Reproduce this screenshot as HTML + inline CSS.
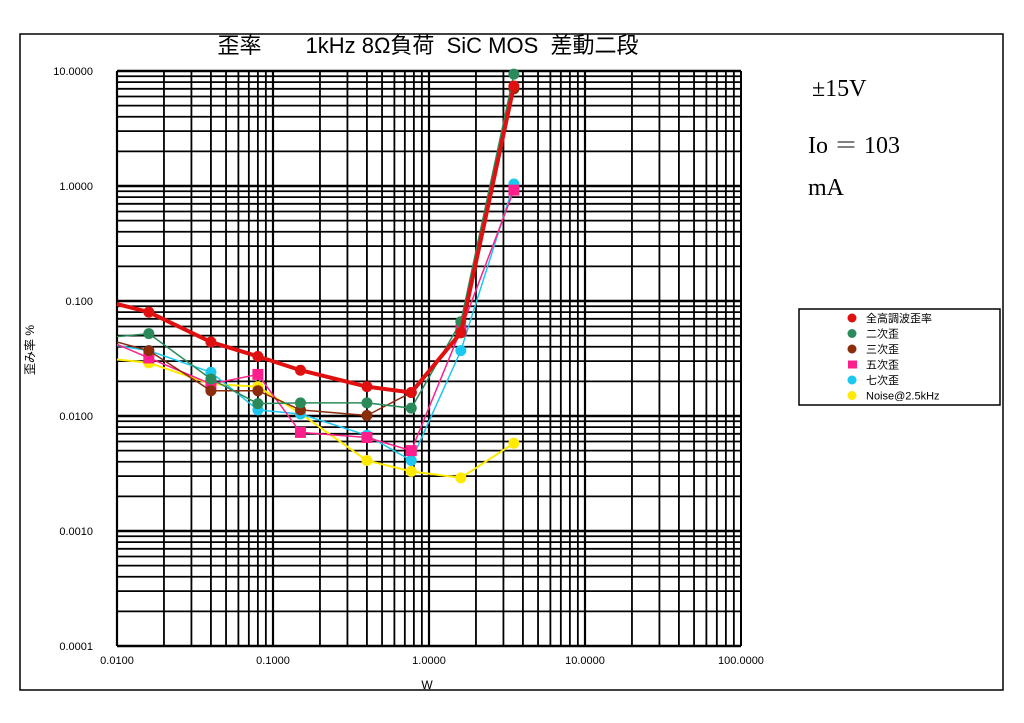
<!DOCTYPE html><html><head><meta charset="utf-8"><style>
body{margin:0;background:#fff;font-family:"Liberation Sans","Noto Sans CJK JP",sans-serif}
svg text{font-family:"Liberation Sans","Noto Sans CJK JP",sans-serif}
</style></head><body>
<svg id="c" width="1024" height="718">
<rect x="20" y="34" width="983" height="656" fill="none" stroke="#000" stroke-width="1.5"/>
<text x="428" y="53" font-size="22" text-anchor="middle" xml:space="preserve">歪率　　1kHz 8Ω負荷  SiC MOS  差動二段</text>
<text x="812" y="96" font-size="24" style="font-family:'Liberation Serif',serif">±15V</text>
<text x="808" y="153" font-size="24" style="font-family:'Liberation Serif','Noto Serif CJK SC',serif">Io ＝ 103</text>
<text x="808" y="195" font-size="24" style="font-family:'Liberation Serif',serif">mA</text>
<text transform="translate(34,350) rotate(-90)" font-size="12" text-anchor="middle">歪み率 %</text>
<text x="427" y="689" font-size="12" text-anchor="middle">W</text>
<g id="grid"></g><g id="ticks"></g><g id="series"></g>
<g>
<rect x="799" y="309" width="201" height="96" fill="#fff" stroke="#000" stroke-width="1.5"/>
<g id="leg"></g></g>
</svg>
<script>
const xVals=[0.01,0.016,0.04,0.08,0.15,0.4,0.77,1.6,3.5];
const thd=[0.094,0.08,0.044,0.033,0.025,0.018,0.016,0.053,7.4];
const h2=[0.049,0.052,0.021,0.0128,0.013,0.013,0.0117,0.066,9.4];
const h3=[0.044,0.037,0.0166,0.0166,0.0113,0.0101,0.016,0.053,7.0];
const h5=[0.042,0.032,0.019,0.023,0.0072,0.0065,0.005,0.056,0.92];
const h7=[0.041,0.037,0.024,0.0113,0.0104,0.0068,0.0041,0.037,1.04];
const noise=[0.031,0.029,0.019,0.018,0.0105,0.0041,0.0033,0.0029,0.0058];
const seriesNames=["全高調波歪率","二次歪","三次歪","五次歪","七次歪","Noise@2.5kHz"];
const yTicks=["0.0001","0.0010","0.0100","0.100","1.0000","10.0000"];
const xTicks=["0.0100","0.1000","1.0000","10.0000","100.0000"];
const NS="http://www.w3.org/2000/svg";
const X=v=>117+(Math.log10(v)+2)*156, Y=v=>646-(Math.log10(v)+4)*115;
function mk(t,a,p){const e=document.createElementNS(NS,t);for(const k in a)e.setAttribute(k,a[k]);p.appendChild(e);return e;}
const g=document.getElementById('grid');
for(let d=-4;d<1;d++)for(let m=1;m<10;m++){const v=m*Math.pow(10,d);const y=Y(v);
const l=mk('line',{x1:117,x2:741,y1:y,y2:y,stroke:'#000','stroke-width':m==1?2.5:1.8},g);
}
mk('line',{x1:117,x2:741,y1:Y(10),y2:Y(10),stroke:'#000','stroke-width':2.5},g);
for(let d=-2;d<2;d++)for(let m=1;m<10;m++){const v=m*Math.pow(10,d);const x=X(v);
const l=mk('line',{x1:x,x2:x,y1:71,y2:646,stroke:'#000','stroke-width':m==1?2.2:1.8},g);
}
mk('line',{x1:741,x2:741,y1:71,y2:646,stroke:'#000','stroke-width':2},g);
const tk=document.getElementById('ticks');
yTicks.forEach((s,i)=>{const t=mk('text',{x:93,y:Y(parseFloat(s))+4,'font-size':11,'text-anchor':'end'},tk);t.textContent=s;
});
xTicks.forEach(s=>{const t=mk('text',{x:X(parseFloat(s)),y:664,'font-size':11,'text-anchor':'middle'},tk);t.textContent=s;
});
const data=[noise,h7,h5,h3,h2,thd];
const cols=["#ffea00","#1cc8f0","#ff1f8c","#8b2c0a","#2a8a5a","#e01010"];
const widths=[2,1.5,1.5,1.5,1.5,4];
const names=[5,4,3,2,1,0];
const sg=document.getElementById('series');
data.forEach((arr,k)=>{const pts=arr.map((v,i)=>X(xVals[i])+','+Y(v)).join(' ');
const gg=mk('g',{},sg);
mk('polyline',{points:pts,fill:'none',stroke:cols[k],'stroke-width':widths[k]},gg);
arr.forEach((v,i)=>{if(i==0)return;let e;
if(k==2)e=mk('rect',{x:X(xVals[i])-5.5,y:Y(v)-5.5,width:11,height:11,fill:cols[k]},gg);
else e=mk('circle',{cx:X(xVals[i]),cy:Y(v),r:5.5,fill:cols[k]},gg);
});});
const lg=document.getElementById('leg');const lc=["#e01010","#2a8a5a","#8b2c0a","#ff1f8c","#1cc8f0","#ffea00"];
seriesNames.forEach((s,i)=>{const y=318+i*15.5;const e=i==3?mk('rect',{x:848,y:y-4,width:9,height:8,fill:lc[i]},lg):mk('circle',{cx:852,cy:y,r:4.5,fill:lc[i]},lg);

const t=mk('text',{x:866,y:y+4,'font-size':11},lg);t.textContent=s;
});
</script></body></html>
